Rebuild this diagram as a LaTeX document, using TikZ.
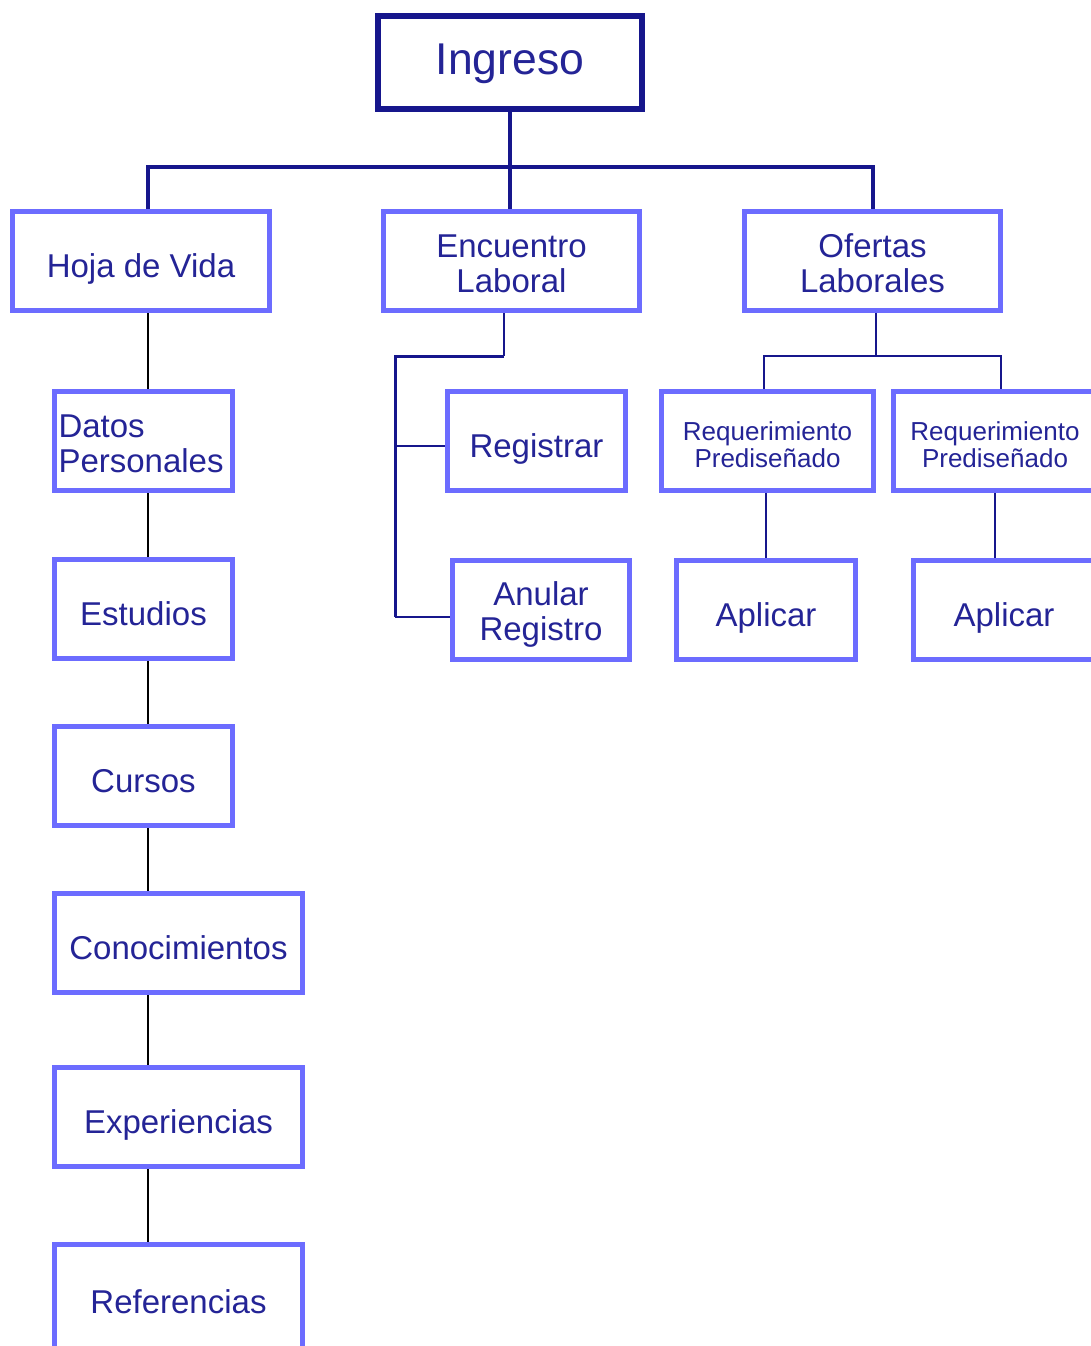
\documentclass[tikz,border=0pt]{standalone}
\usepackage{fontspec}
\setmainfont{Liberation Sans}
\usepackage{tikz}
\usetikzlibrary{positioning,calc}
\definecolor{boxblue}{RGB}{108,108,255}
\definecolor{txtblue}{RGB}{36,36,150}
\definecolor{navyline}{RGB}{22,22,140}
\tikzset{
  box/.style={rectangle, draw=boxblue, line width=5pt, fill=white, text=txtblue,
    minimum height=99pt, align=center, inner sep=2pt, font=\fontsize{33}{35}\selectfont},
  single/.style={text height=40pt, text depth=7pt},
  root/.style={rectangle, draw=navyline, line width=6pt, fill=white, text=txtblue,
    minimum width=264pt, minimum height=93pt, text height=33pt, text depth=9pt,
    font=\fontsize{44.5}{46}\selectfont},
  req/.style={font=\fontsize{26}{27}\selectfont, text height=52pt, text depth=0pt},
  topline/.style={draw=navyline, line width=4pt},
  chain/.style={draw=black, line width=2pt},
  subline/.style={draw=navyline, line width=2pt},
}

\begin{document}
\begin{tikzpicture}[x=1pt, y=-1pt]
  \useasboundingbox (0,0) rectangle (1091,1346);
  \clip (0,0) rectangle (1091,1346);
  % root and first level
  \node[root] (ingreso) at (510,62.5) {Ingreso};
  \node[box, single, minimum width=257pt] (hoja) at (141,261) {Hoja de Vida};
  \node[box, minimum width=256pt, text height=62pt, text depth=0pt] (enc) at (511.5,261) {Encuentro\\Laboral};
  \node[box, minimum width=256pt, text height=63pt, text depth=0pt] (ofertas) at (872.5,261) {Ofertas\\Laborales};
  % hoja de vida column
  \node[box, minimum width=178pt, align=left, text width=170pt, text height=28pt, text depth=35pt] (datos) at (143.5,441) {Datos\\Personales};
  \node[box, single, minimum width=178pt, below=64pt of datos] (estudios) {Estudios};
  \node[box, single, minimum width=178pt, below=63pt of estudios] (cursos) {Cursos};
  \node[box, single, minimum width=248pt, below right=63pt and 0pt of cursos.south west] (conoc) {Conocimientos};
  \node[box, single, minimum width=248pt, below=70pt of conoc] (exper) {Experiencias};
  \node[box, single, minimum width=248pt, minimum height=104pt, below=73pt of exper] (refs) {Referencias};
  % encuentro laboral
  \node[box, single, minimum width=178pt] (registrar) at (536.5,441) {Registrar};
  \node[box, minimum width=177pt, text height=62pt, text depth=0pt] (anular) at (541,609.5) {Anular\\Registro};
  % ofertas laborales
  \node[box, req, minimum width=212pt] (req1) at (767.5,441) {Requerimiento\\Prediseñado};
  \node[box, req, minimum width=203pt] (req2) at (995,441) {Requerimiento\\Prediseñado};
  \node[box, single, minimum width=179pt] (apl1) at (766,609.5) {Aplicar};
  \node[box, single, minimum width=181pt] (apl2) at (1004,609.5) {Aplicar};
  % connectors
  \coordinate (spine) at (148,167);
  \draw[topline] (ingreso.south) -- (ingreso.south |- enc.north);
  \draw[topline] (spine |- hoja.north) -- (spine) -- (spine -| ofertas.north) -- (ofertas.north);
  \foreach \a/\b in {hoja/datos, datos/estudios, estudios/cursos, cursos/conoc, conoc/exper, exper/refs}
    \draw[chain] (spine |- \a.south) -- (spine |- \b.north);
  \coordinate (encfork) at (504,356);
  \coordinate (trunk) at (395,356);
  \coordinate (regbranch) at (395,446);
  \coordinate (anbranch) at (395,617);
  \draw[subline] (encfork |- enc.south) -- (encfork);
  \draw[subline, line width=3pt] (encfork) -- (trunk) -- (anbranch);
  \draw[subline] (regbranch) -- (regbranch -| registrar.west);
  \draw[subline] (anbranch) -- (anbranch -| anular.west);
  \coordinate (ofork) at (876,356);
  \coordinate (reqleft) at (764,356);
  \coordinate (reqright) at (1001,356);
  \draw[subline] (ofork |- ofertas.south) -- (ofork);
  \draw[subline] (reqleft |- req1.north) -- (reqleft) -- (reqright) -- (reqright |- req2.north);
  \draw[subline] (apl1.north |- req1.south) -- (apl1.north);
  \draw[subline] (req2.south) -- (req2.south |- apl2.north);
\end{tikzpicture}
\end{document}
